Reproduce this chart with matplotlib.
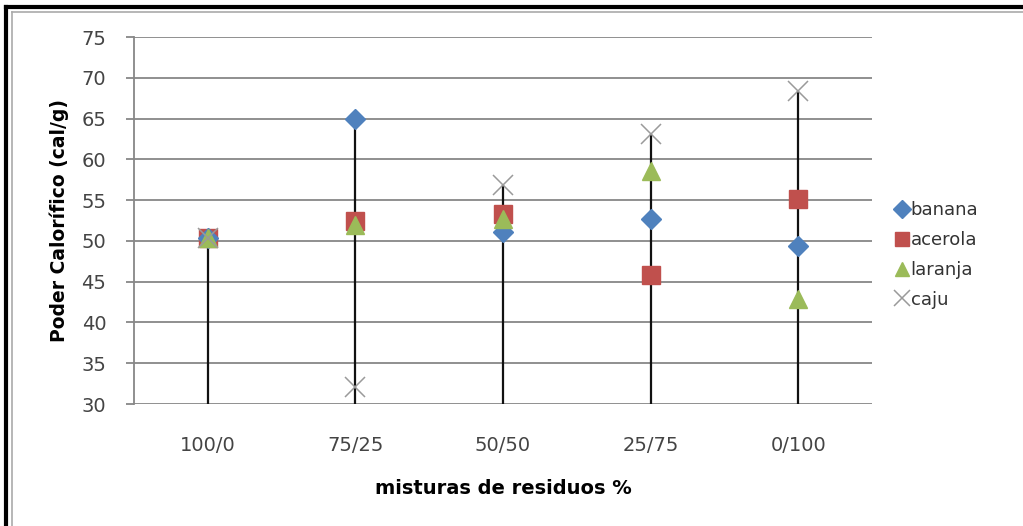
import matplotlib
matplotlib.use("Agg")
import matplotlib.pyplot as plt
from matplotlib.lines import Line2D
import numpy as np

plt.rcParams['font.family'] = ['DejaVu Sans']

categories = ["100/0", "75/25", "50/50", "25/75", "0/100"]
banana = [50.3, 65.0, 51.1, 52.7, 49.4]
acerola = [50.3, 52.4, 53.3, 45.8, 55.1]
laranja = [50.3, 52.0, 52.7, 58.6, 42.9]
caju = [50.3, 32.1, 56.8, 63.1, 68.4]

fig = plt.figure(figsize=(10.23, 5.26), dpi=100)
ax = fig.add_axes([134/1023, 1-404/526, (872-134)/1023, (404-37)/526])

x = np.arange(len(categories))
ymin, ymax = 30, 75

# drop lines from highest point to the bottom
tops = np.max(np.vstack([banana, acerola, laranja, caju]), axis=0)
ax.vlines(x, ymin, tops, colors='#111111', lw=1.6, zorder=2)

ax.plot(x, banana, 'D', color='#4F81BD', ms=10.5, mec='#4F81BD', label='banana', zorder=5, clip_on=False)
ax.plot(x, acerola, 's', color='#C0504D', ms=12.5, mec='#C0504D', label='acerola', zorder=4, clip_on=False)
ax.plot(x, laranja, '^', color='#9BBB59', ms=12.5, mec='#9BBB59', label='laranja', zorder=6, clip_on=False)
ax.plot(x, caju, 'x', color='#9A9A9A', ms=14, mew=1.1, label='caju', zorder=7, clip_on=False)

ax.set_xlim(-0.5, len(categories) - 0.5)
ax.set_ylim(ymin, ymax)
ax.set_yticks(np.arange(30, 76, 5))
ax.set_xticks(x)
ax.set_xticklabels(categories)
ax.yaxis.grid(True, color='#878787', lw=1.3)
ax.set_axisbelow(True)
for s in ['top', 'right', 'bottom']:
    ax.spines[s].set_visible(False)
ax.spines['left'].set_color('#878787')
ax.spines['left'].set_linewidth(1.3)
ax.tick_params(axis='y', length=6, color='#878787', width=1.3, labelsize=14, labelcolor='#444444', pad=14)
ax.tick_params(axis='x', length=0, labelsize=14, labelcolor='#444444', pad=23)

ax.set_ylabel('Poder Calorífico (cal/g)', fontsize=13.5, fontweight='bold', labelpad=9)
ax.set_xlabel('misturas de residuos %', fontsize=14, fontweight='bold', labelpad=17)

leg = fig.legend(loc='upper left', bbox_to_anchor=(897/1023, 1-201/526), frameon=False,
                 fontsize=13, handlelength=0.6, handletextpad=0.15, labelspacing=0.66,
                 borderaxespad=0, borderpad=0, markerscale=0.85)
for t in leg.get_texts():
    t.set_color('#333333')

# outer chart border (top and left)
fig.add_artist(Line2D([6/1023, 6/1023], [0, 1-7/526], transform=fig.transFigure, color='black', lw=3))
fig.add_artist(Line2D([6/1023, 1], [1-7/526, 1-7/526], transform=fig.transFigure, color='black', lw=3))
fig.add_artist(Line2D([12/1023, 12/1023], [0, 1-12/526], transform=fig.transFigure, color='#aaaaaa', lw=1.2))
fig.add_artist(Line2D([12/1023, 1], [1-12/526, 1-12/526], transform=fig.transFigure, color='#aaaaaa', lw=1.2))

fig.savefig('out.png', dpi=100)
